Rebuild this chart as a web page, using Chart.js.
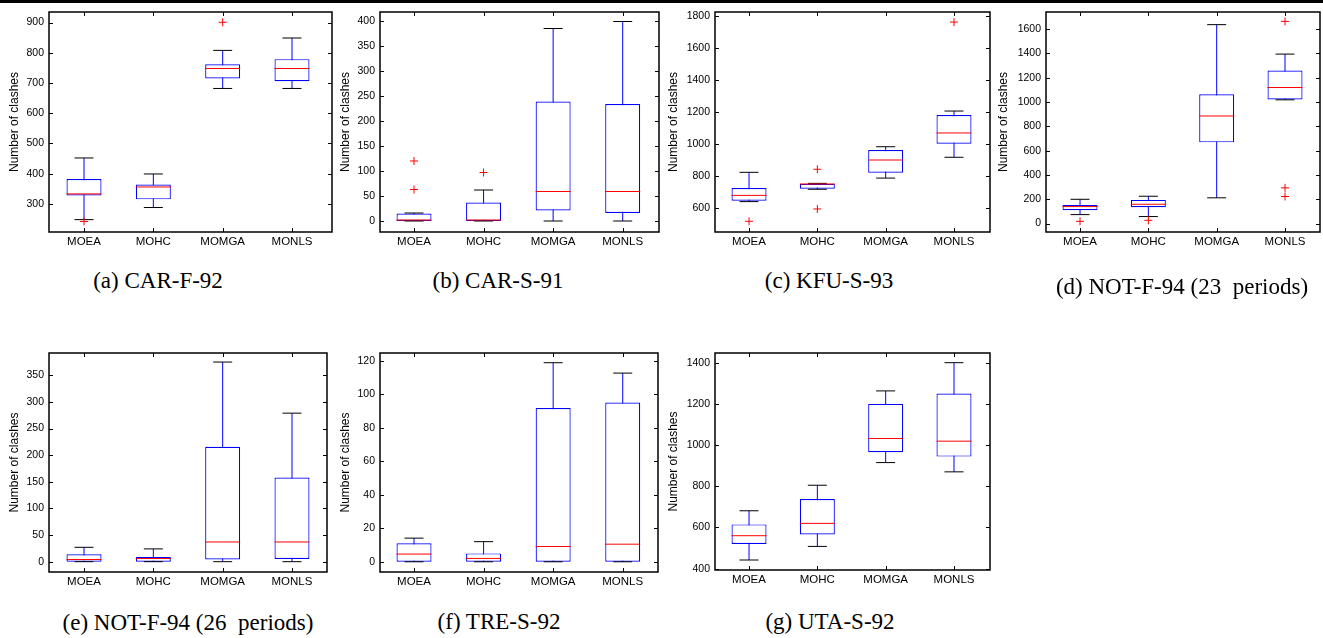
<!DOCTYPE html>
<html>
<head>
<meta charset="utf-8">
<script src="https://cdn.jsdelivr.net/npm/chart.js@4.4.0/dist/chart.umd.min.js"></script>
<style>
  body { margin: 0; background: #fff; width: 1323px; height: 638px; position: relative; overflow: hidden; }
  .rule { position: absolute; left: 0; top: 0; width: 1323px; height: 3px; background: #000; }
  .cap { position: absolute; width: 400px; height: 28px; line-height: 28px; text-align: center;
         font-family: 'Liberation Serif', 'Times New Roman', serif; font-size: 23px; color: #000; white-space: pre; }
</style>
</head>
<body>
<div class="rule"></div>
<script>
const methods = ['MOEA', 'MOHC', 'MOMGA', 'MONLS'];

// per method: [lower whisker, q1, median, q3, upper whisker]
const carF92 = [[248, 328, 333, 382, 452], [288, 315, 356, 364, 399], [682, 715, 748, 762, 808], [682, 706, 748, 779, 849]];
const carF92Out = [[242], [], [901], []];
const carF92Ticks = [300, 400, 500, 600, 700, 800, 900];

const carS91 = [[0, 0, 2, 15, 16], [0, 0, 2, 37, 62], [0, 21, 59, 239, 385], [0, 16, 59, 234, 399]];
const carS91Out = [[120, 63], [97], [], []];
const carS91Ticks = [0, 50, 100, 150, 200, 250, 300, 350, 400];

const kfuS93 = [[638, 644, 677, 723, 821], [715, 718, 748, 750, 752], [785, 819, 898, 960, 981], [915, 1000, 1067, 1179, 1204]];
const kfuS93Out = [[515], [840, 592], [], [1760]];
const kfuS93Ticks = [600, 800, 1000, 1200, 1400, 1600, 1800];

const notF94p23 = [[74, 110, 140, 154, 200], [58, 135, 159, 195, 225], [212, 668, 885, 1064, 1636], [1018, 1020, 1119, 1259, 1394]];
const notF94p23Out = [[19], [27], [], [1663, 294, 223]];
const notF94p23Ticks = [0, 200, 400, 600, 800, 1000, 1200, 1400, 1600];

const notF94p26 = [[0, 0, 4, 14, 27], [0, 0, 6, 9, 24], [0, 4, 37, 216, 375], [0, 5, 37, 158, 279]];
const notF94p26Out = [[], [], [], []];
const notF94p26Ticks = [0, 50, 100, 150, 200, 250, 300, 350];

const treS92 = [[0, 0, 4.6, 11.1, 14.1], [0, 0, 2, 5, 12], [0, 0, 9.1, 91.8, 118.8], [0, 0, 10.5, 95, 112.6]];
const treS92Out = [[], [], [], []];
const treS92Ticks = [0, 20, 40, 60, 80, 100, 120];

const utaS92 = [[442, 520, 560, 615, 681], [508, 566, 620, 738, 805], [915, 965, 1032, 1200, 1263], [870, 944, 1019, 1250, 1400]];
const utaS92Out = [[], [], [], []];
const utaS92Ticks = [400, 600, 800, 1000, 1200, 1400];

// panel layout: plot area box (L,T,R,B), y-axis width W, axis ranges, caption centre
const panels = [
  { stats: carF92, out: carF92Out, ticks: carF92Ticks, yMin: 207, yMax: 935, xMin: 0.495, xMax: 4.577,
    L: 49, T: 12, R: 332, B: 232, W: 46, caption: '(a) CAR-F-92', cx: 158, cy: 281 },
  { stats: carS91, out: carS91Out, ticks: carS91Ticks, yMin: -22, yMax: 418, xMin: 0.511, xMax: 4.522,
    L: 380, T: 12, R: 659, B: 232, W: 46, caption: '(b) CAR-S-91', cx: 498, cy: 281 },
  { stats: kfuS93, out: kfuS93Out, ticks: kfuS93Ticks, yMin: 448, yMax: 1823, xMin: 0.502, xMax: 4.527,
    L: 715, T: 12, R: 990, B: 232, W: 53, caption: '(c) KFU-S-93', cx: 829, cy: 281 },
  { stats: notF94p23, out: notF94p23Out, ticks: notF94p23Ticks, yMin: -69, yMax: 1740, xMin: 0.502, xMax: 4.512,
    L: 1046, T: 12, R: 1320, B: 232, W: 54, caption: '(d) NOT-F-94 (23  periods)', cx: 1182, cy: 287 },
  { stats: notF94p26, out: notF94p26Out, ticks: notF94p26Ticks, yMin: -19.4, yMax: 392, xMin: 0.495, xMax: 4.505,
    L: 49, T: 353, R: 327, B: 572, W: 46, caption: '(e) NOT-F-94 (26  periods)', cx: 188, cy: 623 },
  { stats: treS92, out: treS92Out, ticks: treS92Ticks, yMin: -6.1, yMax: 124.6, xMin: 0.511, xMax: 4.507,
    L: 380, T: 353, R: 658, B: 572, W: 46, caption: '(f) TRE-S-92', cx: 499, cy: 622 },
  { stats: utaS92, out: utaS92Out, ticks: utaS92Ticks, yMin: 393.5, yMax: 1447, xMin: 0.502, xMax: 4.527,
    L: 715, T: 353, R: 990, B: 570, W: 53, caption: '(g) UTA-S-92', cx: 830, cy: 622 }
];

const PAD_TOP = 12, PAD_RIGHT = 4, X_H = 24;
const SANS = "'Liberation Sans', Arial, sans-serif";

// matlab style frame with inward tick marks
const frame = {
  id: 'frame',
  afterDatasetsDraw(chart) {
    const { ctx, chartArea: a, scales: { x, y } } = chart;
    ctx.save();
    ctx.strokeStyle = '#000';
    ctx.lineWidth = 1;
    ctx.beginPath();
    y.ticks.forEach(t => {
      const py = Math.round(y.getPixelForValue(t.value)) + 0.5;
      ctx.moveTo(a.left, py); ctx.lineTo(a.left + 4, py);
      ctx.moveTo(a.right, py); ctx.lineTo(a.right - 4, py);
    });
    x.ticks.forEach(t => {
      const px = Math.round(x.getPixelForValue(t.value)) + 0.5;
      ctx.moveTo(px, a.bottom); ctx.lineTo(px, a.bottom - 4);
      ctx.moveTo(px, a.top); ctx.lineTo(px, a.top + 4);
    });
    ctx.stroke();
    ctx.lineWidth = 1.5;
    ctx.strokeRect(a.left, a.top, a.right - a.left, a.bottom - a.top);
    ctx.restore();
  }
};

panels.forEach(p => {
  const left = p.L - p.W, top = p.T - PAD_TOP;
  const w = p.R - left + PAD_RIGHT, h = p.B - top + X_H;
  const cv = document.createElement('canvas');
  cv.width = w; cv.height = h;
  cv.style.cssText = `position:absolute;left:${left}px;top:${top}px;width:${w}px;height:${h}px`;
  document.body.appendChild(cv);

  const whiskers = p.stats.map((s, i) => ({ x: i + 1, y: [s[0], s[4]] }));
  const boxes = p.stats.map((s, i) => ({ x: i + 1, y: [s[1], s[3]] }));
  const caps = p.stats.flatMap((s, i) => [{ x: i + 1, y: s[0] }, { x: i + 1, y: s[4] }]);
  const medians = p.stats.map((s, i) => ({ x: i + 1, y: s[2] }));
  const outliers = p.out.flatMap((vals, i) => vals.map(v => ({ x: i + 1, y: v })));

  new Chart(cv, {
    type: 'bar',
    data: {
      datasets: [
        { type: 'scatter', data: outliers, pointStyle: 'cross', radius: 4, borderColor: '#ff0000', borderWidth: 1, order: 1 },
        { type: 'scatter', data: medians, pointStyle: 'line', radius: 17.5, borderColor: '#ff0000', borderWidth: 1, order: 2 },
        { type: 'scatter', data: caps, pointStyle: 'line', radius: 9.5, borderColor: '#000000', borderWidth: 1, order: 3 },
        { type: 'bar', data: boxes, backgroundColor: '#ffffff', borderColor: '#0000ff', borderWidth: 1.2,
          borderSkipped: false, barThickness: 35, grouped: false, inflateAmount: 0, order: 4 },
        { type: 'bar', data: whiskers, backgroundColor: '#0000ff', borderWidth: 0,
          barThickness: 1, grouped: false, inflateAmount: 0, order: 5 }
      ]
    },
    options: {
      responsive: false,
      animation: false,
      events: [],
      layout: { autoPadding: false, padding: { left: 0, top: PAD_TOP, right: PAD_RIGHT, bottom: 0 } },
      plugins: { legend: { display: false }, tooltip: { enabled: false } },
      scales: {
        x: {
          type: 'linear', min: p.xMin, max: p.xMax, offset: false,
          grid: { display: false, drawTicks: false }, border: { display: false },
          afterBuildTicks: s => { s.ticks = methods.map((m, i) => ({ value: i + 1 })); },
          afterFit: s => { s.height = X_H; s.paddingLeft = 0; s.paddingRight = 0; },
          ticks: {
            callback: v => methods[v - 1], autoSkip: false, maxRotation: 0, padding: 3,
            color: '#000', font: { family: SANS, size: 11.5 }
          }
        },
        y: {
          type: 'linear', min: p.yMin, max: p.yMax,
          grid: { display: false, drawTicks: false }, border: { display: false },
          afterBuildTicks: s => { s.ticks = p.ticks.map(v => ({ value: v })); },
          afterFit: s => { s.width = p.W; s.paddingTop = 0; s.paddingBottom = 0; },
          ticks: {
            callback: v => String(v), autoSkip: false, padding: 5,
            color: '#000', font: { family: SANS, size: 10.5 }
          },
          title: {
            display: true, text: 'Number of clashes', color: '#000',
            font: { family: SANS, size: 12 }
          }
        }
      }
    },
    plugins: [frame]
  });

  const cap = document.createElement('div');
  cap.className = 'cap';
  cap.textContent = p.caption;
  cap.style.left = (p.cx - 200) + 'px';
  cap.style.top = (p.cy - 14) + 'px';
  document.body.appendChild(cap);
});
</script>
</body>
</html>
